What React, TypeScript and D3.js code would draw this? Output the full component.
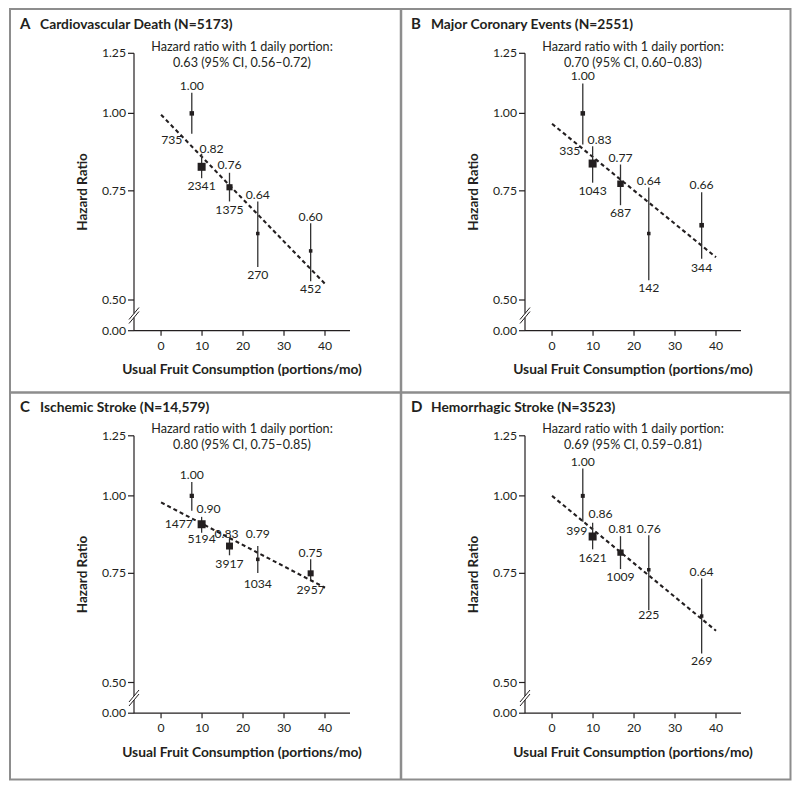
import React from 'react';
import * as d3 from 'd3';

// ---------- data ----------
const portions = [7.5, 9.9, 16.7, 23.6, 36.5];
const xTicks = [0, 10, 20, 30, 40];
const yTicks = [0.5, 0.75, 1.0, 1.25];
const trendX = [0, 40];

const cvdHR = [1.0, 0.82, 0.76, 0.64, 0.6];
const cvdLower = [0.927, 0.786, 0.721, 0.565, 0.536];
const cvdUpper = [1.08, 0.861, 0.802, 0.721, 0.665];
const cvdEvents = [735, 2341, 1375, 270, 452];
const cvdTrend = [0.995, 0.531];

const mceHR = [1.0, 0.83, 0.77, 0.64, 0.66];
const mceLower = [0.891, 0.773, 0.711, 0.538, 0.583];
const mceUpper = [1.117, 0.885, 0.827, 0.759, 0.746];
const mceEvents = [335, 1043, 687, 142, 344];
const mceTrend = [0.962, 0.586];

const isHR = [1.0, 0.9, 0.83, 0.79, 0.75];
const isLower = [0.946, 0.872, 0.802, 0.751, 0.731];
const isUpper = [1.053, 0.925, 0.853, 0.83, 0.79];
const isEvents = [1477, 5194, 3917, 1034, 2957];
const isTrend = [0.976, 0.711];

const hsHR = [1.0, 0.86, 0.81, 0.76, 0.64];
const hsLower = [0.908, 0.82, 0.762, 0.654, 0.557];
const hsUpper = [1.107, 0.905, 0.861, 0.864, 0.736];
const hsEvents = [399, 1621, 1009, 225, 269];
const hsTrend = [1.0, 0.606];

const letters = ['A', 'B', 'C', 'D'];
const titles = [
  'Cardiovascular Death (N=5173)',
  'Major Coronary Events (N=2551)',
  'Ischemic Stroke (N=14,579)',
  'Hemorrhagic Stroke (N=3523)',
];
const perPortion = [
  '0.63 (95% CI, 0.56\u20130.72)',
  '0.70 (95% CI, 0.60\u20130.83)',
  '0.80 (95% CI, 0.75\u20130.85)',
  '0.69 (95% CI, 0.59\u20130.81)',
];

// ---------- label layout (offsets, px) ----------
const hrLabelDx = [
  [0, 10, 0, 0, 0],
  [0, 7, 0, 0, 0],
  [0, 7, -3, 0, 0],
  [0, 8, 0, 0, 0],
];
const hrLabelDy = [
  [-2.5, -1, -4, -2.7, -2.7],
  [-3.3, -2.7, -2.6, -2.3, -3.4],
  [-3.4, -3.4, -1, -7.7, -2.6],
  [-2.3, -4.4, -2.7, -2.3, -2.3],
];
const nLabelDx = [
  [-20, 0, 0, 0, 0],
  [-13, 0, 0, 0, 0],
  [-13, 0, 0, 0, 0],
  [-6, 0, 0, 0, 0],
];
const nLabelDy = [
  [10, 11.6, 12.3, 11.6, 11.3],
  [11, 12.7, 11.7, 11.7, 13.4],
  [17, 10.6, 12.3, 14.6, 13.3],
  [13.3, 13, 11.7, 8.3, 11.7],
];

const INK = '#231f20';
const FONT = 'Lato, "Open Sans", sans-serif';

type PanelProps = {
  idx: number;
  ox: number;
  oy: number;
  hr: number[];
  lower: number[];
  upper: number[];
  events: number[];
  trend: number[];
};

function Panel({ idx, ox, oy, hr, lower, upper, events, trend }: PanelProps) {
  const axisX = 134;
  const axisRight = 350;
  const yTop = 53.3;
  const yHalf = 300;
  const yZero = 330.7;
  const breakY = 315.5;

  const x = d3.scaleLinear().domain([-6.6, 46.1]).range([axisX, axisRight]);
  const y = d3.scaleLog().domain([0.5, 1.25]).range([yHalf, yTop]);
  const size = d3
    .scaleSqrt()
    .domain([0, d3.max(events) as number])
    .range([0, 8]);
  const fmt = d3.format('.2f');

  const line = d3
    .line<number>()
    .x((_, i) => x(trendX[i]))
    .y((d) => y(d));

  const tickLabelStyle = { fontFamily: FONT, fontSize: 12.2, fill: INK };

  return (
    <g transform={`translate(${ox},${oy})`}>
      {/* title */}
      <text x={20} y={29} fontFamily={FONT} fontWeight={700} fontSize={15} fill={INK}>
        {letters[idx]}
      </text>
      <text x={40} y={29} fontFamily={FONT} fontWeight={700} fontSize={13.8} fill={INK}>
        {titles[idx]}
      </text>

      {/* annotation */}
      <text x={(axisX + axisRight) / 2} y={50.5} textAnchor="middle" fontFamily={FONT} fontSize={12.6} fill={INK}>
        Hazard ratio with 1 daily portion:
      </text>
      <text x={(axisX + axisRight) / 2} y={66.8} textAnchor="middle" fontFamily={FONT} fontSize={12.6} fill={INK}>
        {perPortion[idx]}
      </text>

      {/* y axis */}
      <line x1={axisX} x2={axisX} y1={yTop} y2={breakY - 2} stroke={INK} strokeWidth={1.2} />
      <line x1={axisX} x2={axisX} y1={breakY + 2} y2={yZero} stroke={INK} strokeWidth={1.2} />
      <line x1={axisX - 5} y1={breakY - 2 + 6} x2={axisX + 5} y2={breakY - 2 - 6} stroke={INK} strokeWidth={1} />
      <line x1={axisX - 5} y1={breakY + 2 + 6} x2={axisX + 5} y2={breakY + 2 - 6} stroke={INK} strokeWidth={1} />
      {yTicks.map((t) => (
        <g key={t}>
          <line x1={axisX - 6} x2={axisX} y1={y(t)} y2={y(t)} stroke={INK} strokeWidth={1.2} />
          <text x={axisX - 8} y={y(t) + 4} textAnchor="end" {...tickLabelStyle}>
            {fmt(t)}
          </text>
        </g>
      ))}
      <line x1={axisX - 6} x2={axisX} y1={yZero} y2={yZero} stroke={INK} strokeWidth={1.2} />
      <text x={axisX - 8} y={yZero + 4} textAnchor="end" {...tickLabelStyle}>
        {fmt(0)}
      </text>

      {/* x axis */}
      <line x1={axisX} x2={axisRight} y1={yZero} y2={yZero} stroke={INK} strokeWidth={1.2} />
      {xTicks.map((t) => (
        <g key={t}>
          <line x1={x(t)} x2={x(t)} y1={yZero} y2={yZero + 5} stroke={INK} strokeWidth={1.2} />
          <text x={x(t)} y={yZero + 19} textAnchor="middle" {...tickLabelStyle}>
            {t}
          </text>
        </g>
      ))}

      {/* axis titles */}
      <text
        x={(axisX + axisRight) / 2}
        y={374}
        textAnchor="middle"
        fontFamily={FONT}
        fontWeight={700}
        fontSize={13.8}
        fill={INK}
      >
        Usual Fruit Consumption (portions/mo)
      </text>
      <text
        transform={`translate(86.5,${(yTop + yZero) / 2}) rotate(-90)`}
        textAnchor="middle"
        fontFamily={FONT}
        fontWeight={700}
        fontSize={13.5}
        fill={INK}
      >
        Hazard Ratio
      </text>

      {/* trend line */}
      <path d={line(trend) || ''} fill="none" stroke={INK} strokeWidth={2.1} strokeDasharray="4 3" />

      {/* points */}
      {hr.map((v, i) => {
        const cx = x(portions[i]);
        const s = Math.max(3.5, size(events[i]));
        return (
          <g key={i}>
            <line x1={cx} x2={cx} y1={y(upper[i])} y2={y(lower[i])} stroke="#333" strokeWidth={1.3} />
            <rect x={cx - s / 2} y={y(v) - s / 2} width={s} height={s} fill={INK} />
            <text
              x={cx + hrLabelDx[idx][i]}
              y={y(upper[i]) + hrLabelDy[idx][i]}
              textAnchor="middle"
              {...tickLabelStyle}
            >
              {fmt(v)}
            </text>
            <text
              x={cx + nLabelDx[idx][i]}
              y={y(lower[i]) + nLabelDy[idx][i]}
              textAnchor="middle"
              {...tickLabelStyle}
            >
              {events[i]}
            </text>
          </g>
        );
      })}
    </g>
  );
}

export default function App() {
  const dx = 391;
  const dy = 382.5;
  return (
    <svg
      width={800}
      height={790}
      style={{ position: 'absolute', left: 0, top: 0, background: '#fff' }}
    >
      <rect x={0} y={0} width={800} height={790} fill="#fff" />
      <Panel idx={0} ox={0} oy={0} hr={cvdHR} lower={cvdLower} upper={cvdUpper} events={cvdEvents} trend={cvdTrend} />
      <Panel idx={1} ox={dx} oy={0} hr={mceHR} lower={mceLower} upper={mceUpper} events={mceEvents} trend={mceTrend} />
      <Panel idx={2} ox={0} oy={dy} hr={isHR} lower={isLower} upper={isUpper} events={isEvents} trend={isTrend} />
      <Panel idx={3} ox={dx} oy={dy} hr={hsHR} lower={hsLower} upper={hsUpper} events={hsEvents} trend={hsTrend} />

      {/* frame */}
      <rect x={10} y={9} width={780.5} height={770.5} fill="none" stroke="#8d8d8d" strokeWidth={2} />
      <line x1={401} x2={401} y1={9} y2={779.5} stroke="#8d8d8d" strokeWidth={2.5} />
      <line x1={10} x2={790.5} y1={392.5} y2={392.5} stroke="#8d8d8d" strokeWidth={2.5} />
    </svg>
  );
}
